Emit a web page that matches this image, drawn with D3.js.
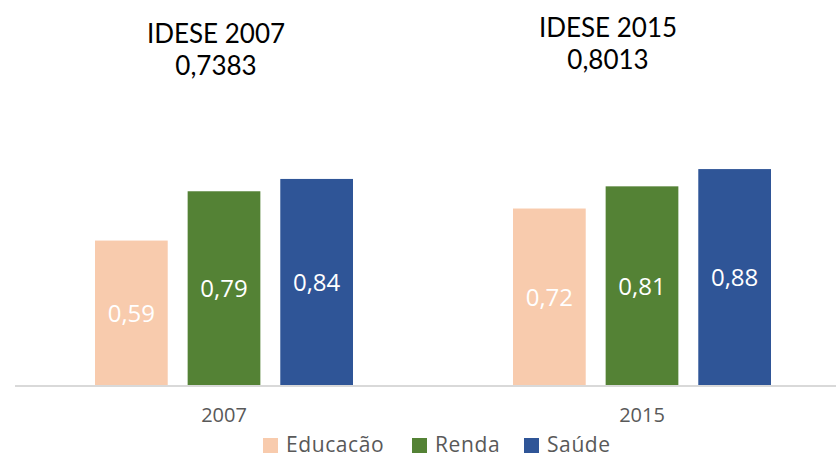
<!DOCTYPE html>
<html>
<head>
<meta charset="utf-8">
<script src="https://cdn.jsdelivr.net/npm/d3@7"></script>
<style>
  html, body { margin: 0; padding: 0; background: #fff; }
  svg { display: block; }
</style>
</head>
<body>
<svg id="chart" width="836" height="459"></svg>
<script>
const categories = ["2007", "2015"];
const seriesNames = ["Educacão", "Renda", "Saúde"];
const educacao = [0.59, 0.72];
const renda = [0.79, 0.81];
const saude = [0.84, 0.88];
const titleLines = [["IDESE 2007", "0,7383"], ["IDESE 2015", "0,8013"]];
const colors = ["#F8CBAD", "#548235", "#2F5597"];

const seriesValues = [educacao, renda, saude];
const svg = d3.select("#chart");

const baseY = 386;
const y = d3.scaleLinear().domain([0, 1]).range([baseY, baseY - 246.5]);

const x0 = d3.scaleBand().domain(categories).range([15, 851])
  .paddingInner(160 / 418).paddingOuter(80 / 418);
const x1 = d3.scaleBand().domain(seriesNames).range([0, x0.bandwidth()])
  .paddingInner(20 / 93).paddingOuter(0);

const fmt = v => d3.format(".2f")(v).replace(".", ",");

// bars
categories.forEach((cat, ci) => {
  const g = svg.append("g").attr("transform", `translate(${x0(cat)},0)`);
  seriesNames.forEach((s, si) => {
    const v = seriesValues[si][ci];
    g.append("rect")
      .attr("x", x1(s))
      .attr("y", y(v))
      .attr("width", x1.bandwidth())
      .attr("height", baseY - y(v))
      .attr("fill", colors[si]);
    g.append("text")
      .attr("x", x1(s) + x1.bandwidth() / 2)
      .attr("y", (y(v) + baseY) / 2)
      .attr("dy", "0.35em")
      .attr("text-anchor", "middle")
      .attr("font-family", "'Open Sans', sans-serif")
      .attr("font-size", 24)
      .attr("fill", "#ffffff")
      .text(fmt(v));
  });
});

// axis
const axis = svg.append("g").attr("transform", `translate(0,${baseY})`)
  .call(d3.axisBottom(x0).tickSize(0).tickPadding(22));
axis.select(".domain").attr("stroke", "#D9D9D9").attr("stroke-width", 2)
  .attr("d", "M15,0H836");
axis.selectAll("text")
  .attr("font-family", "'Open Sans', sans-serif")
  .attr("font-size", 20)
  .attr("fill", "#595959");

// titles
const titleCenters = [216, 608];
const titleBaselines = [43, 37];
titleLines.forEach((lines, i) => {
  lines.forEach((t, li) => {
    svg.append("text")
      .attr("x", titleCenters[i])
      .attr("y", titleBaselines[i] + li * 32)
      .attr("text-anchor", "middle")
      .attr("font-family", "Lato, sans-serif")
      .attr("font-size", 26)
      .attr("fill", "#000")
      .text(t);
  });
});

// legend
const legendX = [263, 412, 524];
const legend = svg.append("g");
seriesNames.forEach((s, i) => {
  legend.append("rect")
    .attr("x", legendX[i]).attr("y", 438)
    .attr("width", 15).attr("height", 15)
    .attr("fill", colors[i]);
  legend.append("text")
    .attr("x", legendX[i] + 23).attr("y", 452)
    .attr("font-family", "'Open Sans', sans-serif")
    .attr("font-size", 21)
    .attr("letter-spacing", 0.6)
    .attr("fill", "#595959")
    .text(s);
});
</script>
</body>
</html>
